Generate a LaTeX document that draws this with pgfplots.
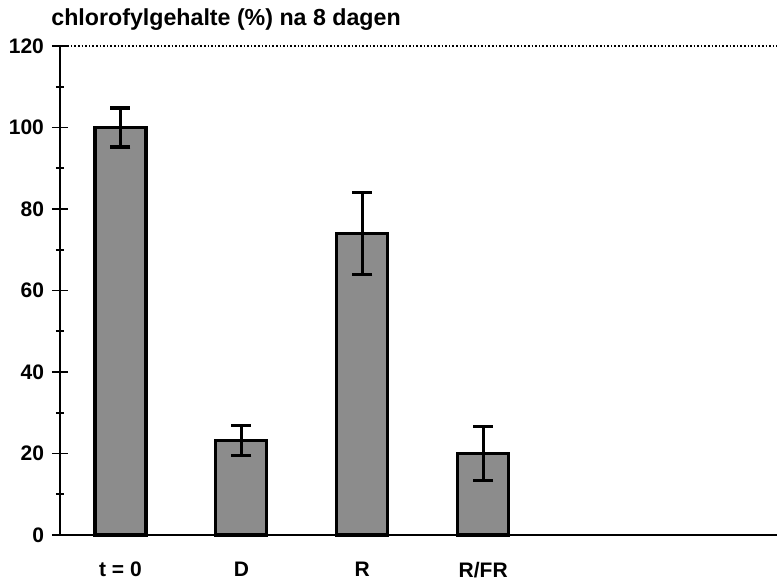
\documentclass[border=0pt]{standalone}
\usepackage{pgfplots}
\pgfplotsset{compat=1.18}
\usepackage{fontspec}
\setmainfont{Liberation Sans}
\begin{document}
\begin{tikzpicture}[x=1pt,y=1pt]
\useasboundingbox (0,0) rectangle (388.5,290.5);
\begin{axis}[
  at={(30pt,23pt)}, anchor=south west,
  scale only axis,
  width=358.5pt, height=244.5pt,
  xmin=0.5, xmax=6.43,
  ymin=0, ymax=120,
  ytick={0,20,...,120},
  minor ytick={10,30,...,110},
  xtick={1,2,3,4},
  xticklabels={t = 0, D, R, R/FR},
  axis lines*=left,
  axis line style={line width=1pt, -},
  x axis line style={line width=1.2pt},
  major tick length=8pt, minor tick length=4pt,
  tick align=center,
  tick style={black, line width=0.8pt},
  xtick style={draw=none},
  tick label style={font=\fontsize{10.5}{12}\selectfont\bfseries},
  yticklabel style={xshift=-0.5pt},
  xticklabel style={yshift=-2pt},
  /pgf/number format/assume math mode=true,
  ybar, bar width=25.5pt,
  clip=false,
]
\addplot[fill=black!45, draw=black, line width=1.6pt,
  error bars/.cd, y dir=both, y explicit,
  error bar style={line width=1.6pt},
  error mark options={rotate=90, mark size=5pt, line width=1.6pt}]
  coordinates {
    (1,100) +- (0,4.8)
    (2,23.2) +- (0,3.7)
    (3,74) +- (0,10)
    (4,20) +- (0,6.6)
  };
\draw[black, line width=0.8pt, densely dotted] (rel axis cs:0,1) -- (rel axis cs:1,1);
\end{axis}
\node[anchor=base west, inner sep=0pt, font=\fontsize{11.6}{13}\selectfont\bfseries] at (25.5,277.5) {chlorofylgehalte (\%) na 8 dagen};
\end{tikzpicture}
\end{document}
